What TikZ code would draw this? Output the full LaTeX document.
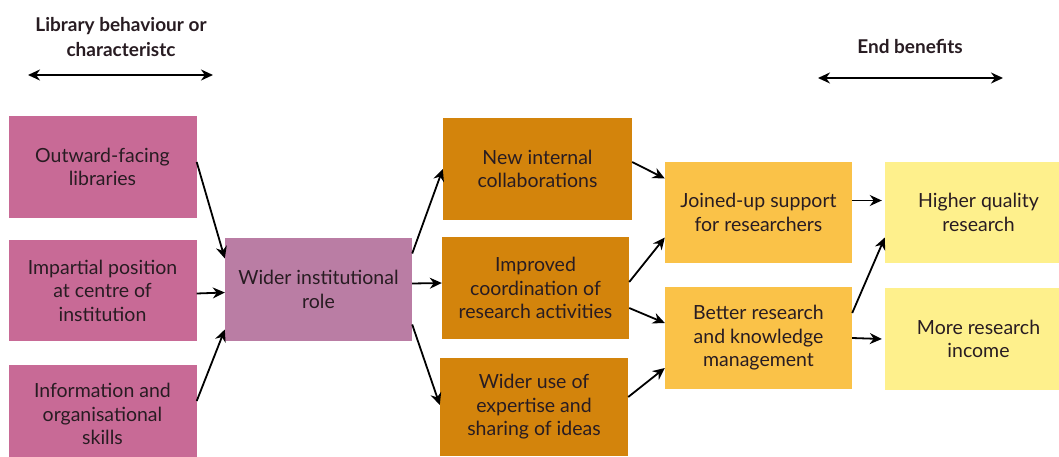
\documentclass[tikz,border=0pt]{standalone}
\usepackage{fontspec}
\setmainfont{Lato}
\usetikzlibrary{arrows.meta}
\definecolor{pinkbox}{RGB}{200,106,150}
\definecolor{mauvebox}{RGB}{186,125,164}
\definecolor{orangebox}{RGB}{211,132,12}
\definecolor{goldbox}{RGB}{250,194,72}
\definecolor{lightbox}{RGB}{254,240,140}
\definecolor{txt}{RGB}{40,28,34}
\tikzset{
  box/.style={draw=none, minimum width=187pt, align=center, text=txt,
    font=\fontsize{19.5}{23.5}\selectfont, inner sep=2pt},
  conn/.style={line width=1.8pt, -{Stealth[length=12pt,width=11pt]}},
  hdr/.style={align=center, text=txt, font=\fontsize{19}{25}\selectfont\bfseries},
  hdrarrow/.style={line width=1.8pt, {Stealth[length=12pt,width=11pt]}-{Stealth[length=12pt,width=11pt]}}
}
\begin{document}
\begin{tikzpicture}[x=1pt,y=-1pt]
\clip (0,0) rectangle (1059,457);
\fill[white] (0,0) rectangle (1059,457);
% headers
\node[hdr] (h1) at (121,37) {Library behaviour or\\characteristc};
\node[hdr] (h2) at (910,47) {End benefits};
\coordinate (la) at (28,75);
\coordinate (lb) at (213,75);
\coordinate (ea) at (818,78);
\coordinate (eb) at (1003,78);
\draw[hdrarrow] (la) -- (lb);
\draw[hdrarrow] (ea) -- (eb);
% column 1
\node[box, fill=pinkbox, minimum width=188pt, minimum height=102pt] (L1) at (102.5,167) {Outward-facing\\libraries};
\node[box, fill=pinkbox, minimum width=188pt, minimum height=101pt] (L2) at (102.5,290.5) {Impartial position\\at centre of\\institution};
\node[box, fill=pinkbox, minimum width=188pt, minimum height=98pt] (L3) at (102.5,414) {Information and\\organisational\\skills};
% column 2
\node[box, fill=mauvebox, minimum height=103pt] (W) at (318.5,289.5) {Wider institutional\\role};
% column 3
\node[box, fill=orangebox, minimum width=189pt, minimum height=102pt] (O1) at (537.5,169) {New internal\\collaborations};
\node[box, fill=orangebox, minimum height=102pt] (O2) at (535.5,288) {Improved\\coordination of\\research activities};
\node[box, fill=orangebox, minimum width=188pt, minimum height=98pt] (O3) at (534,407) {Wider use of\\expertise and\\sharing of ideas};
% column 4
\node[box, fill=goldbox, minimum height=101pt] (J) at (758.5,212.5) {Joined-up support\\for researchers};
\node[box, fill=goldbox, minimum height=102pt] (B) at (758.5,338) {Better research\\and knowledge\\management};
% column 5
\node[box, fill=lightbox, minimum height=101pt] (H) at (978.5,212.5) {Higher quality\\research};
\node[box, fill=lightbox, minimum height=102pt] (M) at (978.5,339) {More research\\income};
% connectors
\draw[conn] ([yshift=5pt]L1.east) -- ([yshift=31pt]W.west);
\draw[conn] ([yshift=-3pt]L2.east) -- ([yshift=-3pt]W.west);
\draw[conn] ([yshift=13pt]L3.east) -- ([yshift=-40pt]W.west);
\draw[conn] ([yshift=36pt]W.east) -- ([yshift=0pt]O1.west);
\draw[conn] ([yshift=6pt]W.east) -- ([yshift=5pt]O2.west);
\draw[conn] ([yshift=-35pt]W.east) -- ([yshift=2pt]O3.west);
\draw[conn] ([yshift=7pt]O1.east) -- ([yshift=34pt]J.west);
\draw[conn] ([yshift=6pt]O2.east) -- ([yshift=-25pt]J.west);
\draw[conn] ([yshift=-20pt]O2.east) -- ([yshift=15pt]B.west);
\draw[conn] ([yshift=10pt]O3.east) -- ([yshift=-30pt]B.west);
\draw[conn] ([yshift=12pt]J.east) -- ([xshift=-3pt,yshift=12pt]H.west);
\draw[conn] ([yshift=25pt]B.east) -- ([yshift=-25pt]H.west);
\draw[conn] (B.east) -- ([xshift=-3pt]M.west);
\end{tikzpicture}
\end{document}
